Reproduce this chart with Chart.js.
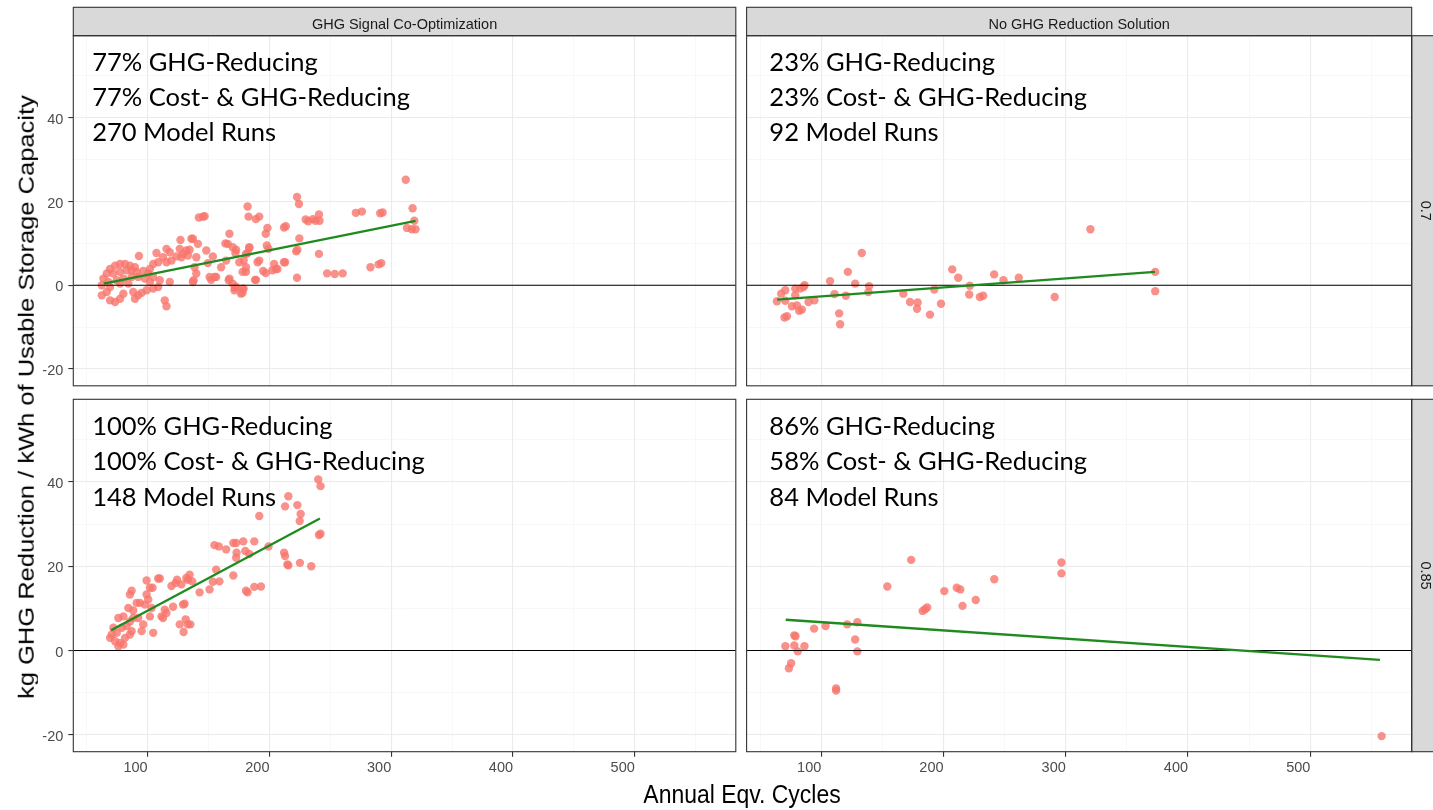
<!DOCTYPE html>
<html>
<head>
<meta charset="utf-8">
<script src="https://cdn.jsdelivr.net/npm/chart.js@4.4.1/dist/chart.umd.min.js"></script>
<style>
  body { margin: 0; background: #fff; }
  #wrap { position: relative; width: 1433px; height: 810px; overflow: hidden; background: #fff; }
  canvas { position: absolute; }
  .title { position: absolute; white-space: nowrap; font-family: 'Liberation Sans', Arial, sans-serif;
           font-size: 25.5px; line-height: 1; color: #000; }
</style>
</head>
<body>
<div id="wrap">
  <canvas id="pTL" width="740" height="390" style="left:0;top:0"></canvas>
  <canvas id="pTR" width="693" height="390" style="left:740px;top:0"></canvas>
  <canvas id="pBL" width="740" height="420" style="left:0;top:390px"></canvas>
  <canvas id="pBR" width="693" height="420" style="left:740px;top:390px"></canvas>
  <div class="title" style="left:742px;top:795px;transform:translate(-50%,-50%) scaleX(0.9)">Annual Eqv. Cycles</div>
  <div class="title" style="left:26px;top:397px;transform:translate(-50%,-50%) rotate(-90deg) scaleY(0.9)">kg GHG Reduction / kWh of Usable Storage Capacity</div>
</div>
<script>
// facet labels
const colHeaders = ['GHG Signal Co-Optimization', 'No GHG Reduction Solution'];
const rowHeaders = ['0.7', '0.85'];

// axes
const xLim = [39, 583];
const yLim = [-24, 59.6];
const xTicks = [50, 100, 150, 200, 250, 300, 350, 400, 450, 500, 550];
const xLabels = [100, 200, 300, 400, 500];
const yTicks = [-20, -10, 0, 10, 20, 30, 40, 50];
const yLabels = [-20, 0, 20, 40];

// summary text per panel
const notesTL = ['77% GHG-Reducing', '77% Cost- & GHG-Reducing', '270 Model Runs'];
const notesTR = ['23% GHG-Reducing', '23% Cost- & GHG-Reducing', '92 Model Runs'];
const notesBL = ['100% GHG-Reducing', '100% Cost- & GHG-Reducing', '148 Model Runs'];
const notesBR = ['86% GHG-Reducing', '58% Cost- & GHG-Reducing', '84 Model Runs'];
const noteX = [54.5, 57.6];
const noteY = [51.2, 42.8, 34.4];

// top left: GHG signal, 0.7
const cycTL = [312,317.6,319,313,317,320,271,276,291,293,283,289.7,291.9,247.4,253.7,260.2,240.7,241.2,235.7,231.9,229.8,237.9,
  222.7,224.3,224.6,223,222.7,240.7,212,213.5,198.4,197,183.5,180.8,191.7,190.3,203.9,206.6,212,202.5,197,182.1,182.9,188.9,191.7,
  180.8,189,178,176.7,145.5,146.8,142.1,127,137.2,141.3,167.2,163.9,169.9,172.7,92.9,126.4,131.8,133.1,129.1,107.3,115.5,118.2,
  112.7,108.7,115.5,119.6,123.7,153.6,164.5,160.4,156.3,150.9,140,138.6,140,137.2,178,180.8,167.2,172.7,178,171.3,104.6,101.9,
  100.5,104.6,96.4,97.8,101.9,110,118.2,69.2,73.3,77.4,81.5,85.5,89.6,66.5,71.9,77.4,82.8,86.9,91,63.7,67.8,74.7,80.1,86.9,92.3,
  62.4,69.2,77.4,84.2,62.4,66.5,69.2,73.3,77.4,80.1,88.2,92.3,95.1,89.6,99.2,104.6,108.7,114.1,115.5,148.2,149.5,137.8,152.2,155,
  166.6,169.9,171.8,178.9,188.2,194.9,199.3,197.9,165.8,172.1,175.3,178.9,183.5,182.1,205.3,212.9,222,136,134.5,127.8];
const ghgTL = [25.2,18.4,15.4,13.7,13.4,13.4,17.3,17.6,17.2,17.4,4.3,5.0,5.3,2.85,2.7,2.85,16.9,15.4,15.8,15.3,15.7,15.4,
  21.1,19.4,11.2,8.5,1.8,7.5,13.8,14.1,13.7,12.3,8.9,7.5,5.9,5.5,5.1,3.9,5.5,3.6,2.9,18.8,16.4,15.8,16.4,
  3.2,1.3,-0.8,-2.0,16.4,16.5,16.2,10.8,11.1,9.9,12.3,10.0,9.1,8.5,7.0,8.7,8.3,7.1,7.5,7.7,8.7,7.9,
  6.7,5.5,5.5,5.9,6.9,6.9,5.9,4.3,2.0,2.0,6.7,4.3,2.8,0.8,3.2,4.3,1.6,-0.4,-1.8,-1.2,5.1,3.9,
  2.8,2.0,3.4,1.6,0.8,1.2,0.8,3.9,4.7,5.1,5.1,4.7,4.3,2.8,2.8,3.2,3.6,3.6,3.2,1.6,0.8,1.2,1.6,2.0,2.0,
  0.0,-0.4,0.4,0.4,-2.4,-1.6,-3.6,-4.0,-3.2,-2.0,-1.6,-2.4,-1.8,-3.2,-1.2,-0.8,-0.4,-3.6,-5.0,8.3,5.3,1.2,1.3,2.0,
  1.2,0.4,-0.6,-0.8,1.3,3.4,8.7,9.5,9.9,7.7,5.5,5.9,9.1,7.7,3.9,5.5,8.1,11.1,8.5,6.7];
const fitXTL = [64, 320];
const fitYTL = [0.4, 15.4];

// top right: no GHG solution, 0.7
const cycTR = [63.8,67.3,70.6,70.6,70,72,76.1,80.2,82,84.2,78.8,78.8,82.9,85.6,86.4,89.6,94.5,107.3,110.9,114.7,115.5,120.2,
  121.8,127.8,133.2,139.2,138.6,167.2,172.7,178.9,178.4,189,192.5,198,207.2,212.1,221.6,221.1,229.8,232.5,241.5,249.1,261.6,
  291,320.2,373.2,373.2];
const ghgTR = [-3.8,-2.0,-1.2,-3.7,-7.7,-7.4,-5.0,-4.8,-6.1,-5.8,-2.4,-0.8,-0.8,-0.4,0,-4.0,-3.6,1.0,-2.1,-6.7,-9.3,-2.5,
  3.2,0.4,7.7,-0.2,-1.6,-2.0,-4.0,-4.1,-5.6,-7.0,-1.0,-4.4,3.8,1.8,-0.1,-2.2,-2.8,-2.5,2.6,1.2,1.8,
  -2.8,13.4,3.2,-1.4];
const fitXTR = [64, 373];
const fitYTR = [-3.4, 3.2];

// bottom left: GHG signal, 0.85
const cycBL = [240.1,242,215.6,212.9,223,225.7,224.9,191.7,240.7,242,212.1,212.9,214.8,215.6,225.1,234.4,199.3,154.9,158.5,
  164.5,170.4,172.7,178.6,187.6,173.1,172.7,180.2,183.5,170.4,180.8,182.1,187.6,193.1,156.3,153.6,150.9,142.7,134.5,133.1,
  127.8,124.2,119.6,122.9,108.7,110,101.9,104.1,99.2,86.9,85.5,99.2,100.5,97.8,91,93.7,120.9,129.1,130.4,126.4,133.1,131.3,
  129.6,103.3,101.9,96.4,95.1,88.2,92.3,111.4,112.7,114.1,115.5,104.6,71.9,76,80.1,84.2,70.6,74.7,78.8,82.9,85.5,88.2,73.3,
  77.4,81.5,85.5,86.9,76,80.1,69.2,159,136.7,131.8,135.1];
const ghgBL = [40.6,39.0,36.6,34.2,34.5,32.4,30.7,31.9,27.4,27.7,23.2,22.4,20.4,20.2,20.8,20.0,24.7,25.0,24.7,
  24.0,25.5,25.5,25.9,25.9,23.2,22.0,23.6,22.9,17.8,14.2,13.8,15.1,15.2,19.2,16.3,14.5,13.8,18.0,16.8,
  15.7,16.8,15.3,16.0,17.1,17.1,14.9,14.9,16.6,14.2,13.3,13.3,12.1,10.9,11.3,11.3,10.4,10.9,11.1,6.2,6.2,7.4,
  4.4,10.1,8.1,6.2,4.6,9.5,7.7,8.1,7.7,9.7,8.9,4.2,5.4,7.7,8.1,10.1,3.8,4.2,5.4,5.8,6.9,7.7,2.2,
  1.8,3.0,3.8,4.6,1.0,1.4,3.0,16.4,16.4,17.2,6.2];
const fitXBL = [70, 241.5];
const fitYBL = [4.8, 31.3];

// bottom right: no GHG solution, 0.85
const cycBR = [70.7,73.6,75.4,78,79,78,80.8,86.3,94.2,103.6,112.2,112.2,121.3,127.8,129.6,129.6,154.1,173.6,183,184.9,186.7,
  200.7,210.9,213.8,215.6,226.4,241.6,296.5,296.5,558.4];
const ghgBR = [1.0,-4.2,-3.0,1.2,3.4,3.6,-0.2,1.0,5.2,5.8,-9.5,-9.0,6.2,2.6,6.7,-0.2,15.2,21.5,9.4,9.8,10.2,
  14.1,14.9,14.5,10.6,12.0,16.9,20.9,18.3,-20.3];
const fitXBR = [71, 557];
const fitYBR = [7.3, -2.2];

const pointColor = 'rgba(248, 118, 109, 0.8)';
const fitColor = '#1F8B1F';
const tickFont = { family: 'Liberation Sans', size: 14.5 };

const toPts = (xs, ys) => xs.map((x, i) => ({ x: x, y: ys[i] }));

// strips, panel frame and the summary text
const panelDecor = {
  id: 'panelDecor',
  afterDraw(chart, args, o) {
    const { ctx, chartArea: a } = chart;
    const sx = chart.scales.x, sy = chart.scales.y;
    ctx.save();

    ctx.fillStyle = '#000';
    ctx.font = '25.5px Lato';
    ctx.textBaseline = 'alphabetic';
    ctx.textAlign = 'left';
    o.notes.forEach((t, i) => {
      ctx.fillText(t, sx.getPixelForValue(o.noteX), sy.getPixelForValue(noteY[i]));
    });

    ctx.strokeStyle = '#333';
    ctx.lineWidth = 1.1;
    if (o.col) {
      const h = 28.4;
      ctx.fillStyle = '#D9D9D9';
      ctx.fillRect(a.left, a.top - h, a.right - a.left, h);
      ctx.strokeRect(a.left, a.top - h, a.right - a.left, h);
      ctx.fillStyle = '#1A1A1A';
      ctx.font = '14.5px "Liberation Sans"';
      ctx.textAlign = 'center';
      ctx.fillText(o.col, (a.left + a.right) / 2, a.top - 6.4);
    }
    if (o.row) {
      ctx.fillStyle = '#D9D9D9';
      ctx.fillRect(a.right, a.top, 40, a.bottom - a.top);
      ctx.strokeRect(a.right, a.top, 40, a.bottom - a.top);
      ctx.fillStyle = '#1A1A1A';
      ctx.font = '14.5px "Liberation Sans"';
      ctx.textAlign = 'center';
      ctx.textBaseline = 'middle';
      ctx.translate(a.right + 12.8, (a.top + a.bottom) / 2);
      ctx.rotate(Math.PI / 2);
      ctx.fillText(o.row, 0, 0);
      ctx.setTransform(1, 0, 0, 1, 0, 0);
    }
    ctx.strokeStyle = '#333';
    ctx.strokeRect(a.left, a.top, a.right - a.left, a.bottom - a.top);
    ctx.restore();
  }
};

function gridOpts(labels, showTicks) {
  return {
    color: c => (c.tick && labels.includes(c.tick.value)) ? '#EBEBEB' : '#F4F4F4',
    lineWidth: c => (c.tick && labels.includes(c.tick.value)) ? 1.1 : 0.6,
    drawTicks: showTicks,
    tickLength: 5,
    tickWidth: 1.1,
    tickColor: c => (c.tick && labels.includes(c.tick.value)) ? '#333' : 'rgba(0,0,0,0)'
  };
}

function makePanel(id, p) {
  const fit = toPts(p.fitX, p.fitY);
  new Chart(document.getElementById(id), {
    type: 'scatter',
    data: {
      datasets: [
        { type: 'line', data: fit, showLine: true, borderColor: fitColor, borderWidth: 2.3, pointRadius: 0, order: 0 },
        { type: 'line', data: [{ x: xLim[0], y: 0 }, { x: xLim[1], y: 0 }], showLine: true,
          borderColor: '#000', borderWidth: 1.1, pointRadius: 0, order: 1 },
        { data: toPts(p.xs, p.ys), backgroundColor: pointColor, borderWidth: 0, pointRadius: 4.2, order: 2 }
      ]
    },
    options: {
      responsive: false,
      animation: false,
      events: [],
      layout: { padding: p.pad },
      plugins: {
        legend: { display: false },
        tooltip: { enabled: false },
        panelDecor: { notes: p.notes, noteX: p.noteX, col: p.col, row: p.row }
      },
      scales: {
        x: {
          type: 'linear', min: xLim[0], max: xLim[1],
          afterBuildTicks: s => { s.ticks = xTicks.map(v => ({ value: v })); },
          afterFit: s => { s.height = p.xh; s.paddingLeft = 0; s.paddingRight = 0; },
          ticks: { display: p.xh > 0, autoSkip: false, maxRotation: 0, padding: 3, labelOffset: -12,
                   color: '#4D4D4D', font: tickFont, callback: v => xLabels.includes(v) ? v : '' },
          grid: gridOpts(xLabels, p.xh > 0),
          border: { display: false }
        },
        y: {
          type: 'linear', min: yLim[0], max: yLim[1],
          afterBuildTicks: s => { s.ticks = yTicks.map(v => ({ value: v })); },
          afterFit: s => { s.width = p.yw; s.paddingTop = 0; s.paddingBottom = 0; },
          ticks: { display: p.yw > 0, autoSkip: false, padding: 5, labelOffset: 2,
                   color: '#4D4D4D', font: tickFont, callback: v => yLabels.includes(v) ? v : '' },
          grid: gridOpts(yLabels, p.yw > 0),
          border: { display: false }
        }
      }
    },
    plugins: [panelDecor]
  });
}

makePanel('pTL', { xs: cycTL, ys: ghgTL, fitX: fitXTL, fitY: fitYTL, notes: notesTL, noteX: noteX[0],
  col: colHeaders[0], row: null, pad: { top: 35.7, right: 2.6, bottom: 1.7, left: 0 }, xh: 0, yw: 73.3 });
makePanel('pTR', { xs: cycTR, ys: ghgTR, fitX: fitXTR, fitY: fitYTR, notes: notesTR, noteX: noteX[1],
  col: colHeaders[1], row: rowHeaders[0], pad: { top: 35.7, right: 21.3, bottom: 1.7, left: 6.6 }, xh: 0, yw: 0 });
makePanel('pBL', { xs: cycBL, ys: ghgBL, fitX: fitXBL, fitY: fitYBL, notes: notesBL, noteX: noteX[0],
  col: null, row: null, pad: { top: 9.3, right: 2.6, bottom: 0, left: 0 }, xh: 58.3, yw: 73.3 });
makePanel('pBR', { xs: cycBR, ys: ghgBR, fitX: fitXBR, fitY: fitYBR, notes: notesBR, noteX: noteX[1],
  col: null, row: rowHeaders[1], pad: { top: 9.3, right: 21.3, bottom: 0, left: 6.6 }, xh: 58.3, yw: 0 });
</script>
</body>
</html>
